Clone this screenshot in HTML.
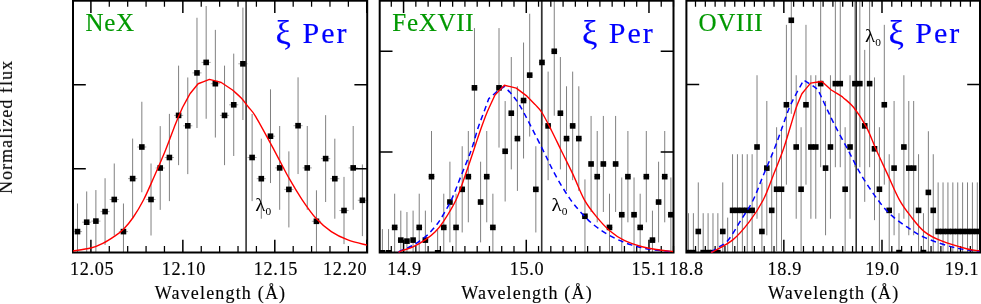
<!DOCTYPE html>
<html><head><meta charset="utf-8"><title>chart</title>
<style>html,body{margin:0;padding:0;background:#fff}svg{display:block}</style></head>
<body>
<svg width="981" height="304" viewBox="0 0 981 304">
<rect width="981" height="304" fill="#fff"/>
<defs>
<clipPath id="c0"><rect x="73.00" y="0.70" width="294.20" height="252.40"/></clipPath>
<clipPath id="c1"><rect x="379.70" y="0.70" width="293.80" height="252.40"/></clipPath>
<clipPath id="c2"><rect x="686.40" y="0.70" width="293.60" height="252.40"/></clipPath>
</defs>
<g clip-path="url(#c0)">
<path d="M77.50 203.49V259.71M86.69 191.45V252.95M95.88 190.07V252.13M105.07 178.24V244.96M114.26 163.49V235.51M123.45 203.49V259.71M132.64 138.56V218.64M141.83 101.75V192.25M151.02 163.49V235.51M160.21 126.12V209.88M169.40 113.89V201.11M178.59 65.63V165.17M187.78 77.46V174.14M196.97 17.76V128.04M206.16 6.03V118.77M215.35 29.86V137.54M224.54 65.63V165.17M233.73 53.62V155.98M242.92 7.60V120.00M252.11 113.89V201.11M261.30 138.68V218.72M270.49 89.34V183.06M279.68 126.00V209.80M288.87 151.37V227.43M298.06 77.34V174.06M307.25 126.00V209.80M316.44 190.32V252.28M325.63 115.17V202.03M334.82 138.68V218.72M344.01 176.89V244.11M353.20 126.00V209.80M362.39 164.46V236.14" stroke="#808080" stroke-width="1" fill="none"/>
<path d="M72.91 231.60H82.09M82.09 222.20H91.28M91.28 221.10H100.47M100.47 211.60H109.66M109.66 199.50H118.85M118.85 231.60H128.04M128.04 178.60H137.23M137.23 147.00H146.42M146.42 199.50H155.61M155.61 168.00H164.80M164.80 157.50H173.99M173.99 115.40H183.18M183.19 125.80H192.38M192.38 72.90H201.56M201.56 62.40H210.75M210.75 83.70H219.94M219.94 115.40H229.13M229.13 104.80H238.32M238.32 63.80H247.51M247.51 157.50H256.70M256.70 178.70H265.89M265.89 136.20H275.09M275.08 167.90H284.27M284.27 189.40H293.47M293.46 125.70H302.66M302.65 167.90H311.85M311.84 221.30H321.04M321.03 158.60H330.23M330.22 178.70H339.42M339.41 210.50H348.61M348.60 167.90H357.80M357.79 200.30H366.99" stroke="#a8a8a8" stroke-width="1" fill="none"/>
<path d="M246.10 0.70V252.50" stroke="#333" stroke-width="1.6"/>
<g fill="#000"><rect x="74.70" y="228.80" width="5.60" height="5.60"/><rect x="83.89" y="219.40" width="5.60" height="5.60"/><rect x="93.08" y="218.30" width="5.60" height="5.60"/><rect x="102.27" y="208.80" width="5.60" height="5.60"/><rect x="111.46" y="196.70" width="5.60" height="5.60"/><rect x="120.65" y="228.80" width="5.60" height="5.60"/><rect x="129.84" y="175.80" width="5.60" height="5.60"/><rect x="139.03" y="144.20" width="5.60" height="5.60"/><rect x="148.22" y="196.70" width="5.60" height="5.60"/><rect x="157.41" y="165.20" width="5.60" height="5.60"/><rect x="166.60" y="154.70" width="5.60" height="5.60"/><rect x="175.79" y="112.60" width="5.60" height="5.60"/><rect x="184.98" y="123.00" width="5.60" height="5.60"/><rect x="194.17" y="70.10" width="5.60" height="5.60"/><rect x="203.36" y="59.60" width="5.60" height="5.60"/><rect x="212.55" y="80.90" width="5.60" height="5.60"/><rect x="221.74" y="112.60" width="5.60" height="5.60"/><rect x="230.93" y="102.00" width="5.60" height="5.60"/><rect x="240.12" y="61.00" width="5.60" height="5.60"/><rect x="249.31" y="154.70" width="5.60" height="5.60"/><rect x="258.50" y="175.90" width="5.60" height="5.60"/><rect x="267.69" y="133.40" width="5.60" height="5.60"/><rect x="276.88" y="165.10" width="5.60" height="5.60"/><rect x="286.07" y="186.60" width="5.60" height="5.60"/><rect x="295.26" y="122.90" width="5.60" height="5.60"/><rect x="304.45" y="165.10" width="5.60" height="5.60"/><rect x="313.64" y="218.50" width="5.60" height="5.60"/><rect x="322.83" y="155.80" width="5.60" height="5.60"/><rect x="332.02" y="175.90" width="5.60" height="5.60"/><rect x="341.21" y="207.70" width="5.60" height="5.60"/><rect x="350.40" y="165.10" width="5.60" height="5.60"/><rect x="359.59" y="197.50" width="5.60" height="5.60"/></g>
</g>
<path d="M109.29 0.70V6.80M109.29 252.50V246.00M127.68 0.70V6.80M127.68 252.50V246.00M146.07 0.70V6.80M146.07 252.50V246.00M164.46 0.70V6.80M164.46 252.50V246.00M201.24 0.70V6.80M201.24 252.50V246.00M219.63 0.70V6.80M219.63 252.50V246.00M238.02 0.70V6.80M238.02 252.50V246.00M256.41 0.70V6.80M256.41 252.50V246.00M293.19 0.70V6.80M293.19 252.50V246.00M311.58 0.70V6.80M311.58 252.50V246.00M329.97 0.70V6.80M329.97 252.50V246.00M348.36 0.70V6.80M348.36 252.50V246.00" stroke="#000" stroke-width="1.25" fill="none"/>
<path d="M90.90 0.70V13.00M90.90 252.50V239.80M182.85 0.70V13.00M182.85 252.50V239.80M274.80 0.70V13.00M274.80 252.50V239.80M366.75 0.70V13.00M366.75 252.50V239.80M73.00 84.70H85.80M367.20 84.70H354.40M73.00 168.80H85.80M367.20 168.80H354.40" stroke="#000" stroke-width="1.5" fill="none"/>
<rect x="73.00" y="0.70" width="294.20" height="251.80" fill="none" stroke="#000" stroke-width="2"/>
<g clip-path="url(#c0)">
<path d="M72.50 251.00 C75.55 250.50 85.75 249.28 90.80 248.00 C95.85 246.72 98.75 245.33 102.80 243.30 C106.85 241.27 111.65 238.15 115.10 235.80 C118.55 233.45 120.50 232.25 123.50 229.20 C126.50 226.15 129.77 222.37 133.10 217.50 C136.43 212.63 140.02 206.75 143.50 200.00 C146.98 193.25 150.32 185.33 154.00 177.00 C157.68 168.67 162.02 158.83 165.60 150.00 C169.18 141.17 172.68 131.08 175.50 124.00 C178.32 116.92 180.17 113.00 182.50 107.50 C185.00 102.92 187.50 98.33 190.00 93.75 C192.70 90.42 195.40 87.08 198.10 83.75 C201.87 82.30 205.63 80.85 209.40 79.40 C213.35 80.43 217.30 81.47 221.25 82.50 C225.00 85.00 228.75 87.50 232.50 90.00 C235.42 92.70 238.54 95.18 241.25 98.10 C243.96 101.02 246.34 104.42 248.75 107.50 C251.16 110.58 251.49 109.55 255.70 116.60 C259.91 123.65 268.45 139.53 274.00 149.80 C279.55 160.07 284.30 169.87 289.00 178.20 C293.70 186.53 297.70 193.12 302.20 199.80 C306.70 206.48 311.15 213.00 316.00 218.30 C320.85 223.60 325.98 228.00 331.30 231.60 C336.62 235.20 341.95 237.63 347.90 239.90 C353.85 242.17 363.82 244.32 367.00 245.20" stroke="#ff0000" stroke-width="1.4" fill="none" stroke-linejoin="round"/>
</g>
<g clip-path="url(#c1)">
<path d="M382.40 229.12V276.48M388.54 229.12V276.48M394.67 193.69V261.15M400.81 210.63V269.59M406.95 212.04V270.21M413.09 210.63V269.59M419.22 193.69V261.15M425.36 210.63V269.59M431.50 131.00V222.32M437.64 229.12V276.48M443.77 193.69V261.15M449.91 161.69V242.39M456.05 193.69V261.15M462.19 146.23V232.47M468.32 131.00V222.32M474.46 28.08V147.58M480.60 161.69V242.39M486.74 131.00V222.32M492.88 193.69V261.15M499.01 28.08V147.58M505.15 101.05V201.51M511.29 57.02V169.40M517.42 86.28V190.90M523.56 42.52V158.52M529.70 13.71V136.57M535.84 146.23V232.47M541.98 -0.60V125.50M548.11 71.60V180.20M554.25 -13.16V115.72M560.39 57.02V169.40M566.52 86.28V190.90M572.66 71.60V180.20M578.80 86.28V190.90M584.94 179.39V253.12M591.08 115.95V211.99M597.21 131.00V222.32M603.35 115.95V211.99M609.49 193.69V261.15M615.62 115.95V211.99M621.76 177.47V251.99M627.90 131.00V222.32M634.04 177.47V251.99M640.17 193.69V261.15M646.31 131.00V222.32M652.45 210.63V269.59M658.59 161.69V242.39M664.72 131.00V222.32M670.86 177.47V251.99" stroke="#808080" stroke-width="1" fill="none"/>
<path d="M379.33 252.80H385.47M385.47 252.80H391.61M391.61 227.42H397.74M397.74 240.11H403.88M403.88 241.13H410.02M410.02 240.11H416.16M416.16 227.42H422.29M422.29 240.11H428.43M428.43 176.66H434.57M434.57 252.80H440.71M440.71 227.42H446.84M446.84 202.04H452.98M452.98 227.42H459.12M459.12 189.35H465.26M465.26 176.66H471.39M471.39 87.83H477.53M477.53 202.04H483.67M483.67 176.66H489.81M489.81 227.42H495.94M495.94 87.83H502.08M502.08 151.28H508.22M508.22 113.21H514.36M514.36 138.59H520.49M520.49 100.52H526.63M526.63 75.14H532.77M532.77 189.35H538.91M538.91 62.45H545.04M545.04 125.90H551.18M551.18 51.28H557.32M557.32 113.21H563.46M563.46 138.59H569.59M569.59 125.90H575.73M575.73 138.59H581.87M581.87 216.25H588.01M588.01 163.97H594.14M594.14 176.66H600.28M600.28 163.97H606.42M606.42 227.42H612.56M612.56 163.97H618.69M618.69 214.73H624.83M624.83 176.66H630.97M630.97 214.73H637.11M637.11 227.42H643.24M643.24 176.66H649.38M649.38 240.11H655.52M655.52 202.04H661.66M661.66 176.66H667.79M667.79 214.73H673.93" stroke="#a8a8a8" stroke-width="1" fill="none"/>
<path d="M541.70 0.70V252.50" stroke="#333" stroke-width="1.6"/>
<g fill="#000"><rect x="379.60" y="250.00" width="5.60" height="5.60"/><rect x="385.74" y="250.00" width="5.60" height="5.60"/><rect x="391.87" y="224.62" width="5.60" height="5.60"/><rect x="398.01" y="237.31" width="5.60" height="5.60"/><rect x="404.15" y="238.33" width="5.60" height="5.60"/><rect x="410.29" y="237.31" width="5.60" height="5.60"/><rect x="416.42" y="224.62" width="5.60" height="5.60"/><rect x="422.56" y="237.31" width="5.60" height="5.60"/><rect x="428.70" y="173.86" width="5.60" height="5.60"/><rect x="434.84" y="250.00" width="5.60" height="5.60"/><rect x="440.97" y="224.62" width="5.60" height="5.60"/><rect x="447.11" y="199.24" width="5.60" height="5.60"/><rect x="453.25" y="224.62" width="5.60" height="5.60"/><rect x="459.39" y="186.55" width="5.60" height="5.60"/><rect x="465.52" y="173.86" width="5.60" height="5.60"/><rect x="471.66" y="85.03" width="5.60" height="5.60"/><rect x="477.80" y="199.24" width="5.60" height="5.60"/><rect x="483.94" y="173.86" width="5.60" height="5.60"/><rect x="490.07" y="224.62" width="5.60" height="5.60"/><rect x="496.21" y="85.03" width="5.60" height="5.60"/><rect x="502.35" y="148.48" width="5.60" height="5.60"/><rect x="508.49" y="110.41" width="5.60" height="5.60"/><rect x="514.62" y="135.79" width="5.60" height="5.60"/><rect x="520.76" y="97.72" width="5.60" height="5.60"/><rect x="526.90" y="72.34" width="5.60" height="5.60"/><rect x="533.04" y="186.55" width="5.60" height="5.60"/><rect x="539.18" y="59.65" width="5.60" height="5.60"/><rect x="545.31" y="123.10" width="5.60" height="5.60"/><rect x="551.45" y="48.48" width="5.60" height="5.60"/><rect x="557.59" y="110.41" width="5.60" height="5.60"/><rect x="563.73" y="135.79" width="5.60" height="5.60"/><rect x="569.86" y="123.10" width="5.60" height="5.60"/><rect x="576.00" y="135.79" width="5.60" height="5.60"/><rect x="582.14" y="213.45" width="5.60" height="5.60"/><rect x="588.28" y="161.17" width="5.60" height="5.60"/><rect x="594.41" y="173.86" width="5.60" height="5.60"/><rect x="600.55" y="161.17" width="5.60" height="5.60"/><rect x="606.69" y="224.62" width="5.60" height="5.60"/><rect x="612.83" y="161.17" width="5.60" height="5.60"/><rect x="618.96" y="211.93" width="5.60" height="5.60"/><rect x="625.10" y="173.86" width="5.60" height="5.60"/><rect x="631.24" y="211.93" width="5.60" height="5.60"/><rect x="637.38" y="224.62" width="5.60" height="5.60"/><rect x="643.51" y="173.86" width="5.60" height="5.60"/><rect x="649.65" y="237.31" width="5.60" height="5.60"/><rect x="655.79" y="199.24" width="5.60" height="5.60"/><rect x="661.92" y="173.86" width="5.60" height="5.60"/><rect x="668.06" y="211.93" width="5.60" height="5.60"/></g>
</g>
<path d="M391.30 0.70V6.80M391.30 252.50V246.00M415.84 0.70V6.80M415.84 252.50V246.00M428.11 0.70V6.80M428.11 252.50V246.00M440.38 0.70V6.80M440.38 252.50V246.00M452.65 0.70V6.80M452.65 252.50V246.00M464.92 0.70V6.80M464.92 252.50V246.00M477.19 0.70V6.80M477.19 252.50V246.00M489.46 0.70V6.80M489.46 252.50V246.00M501.73 0.70V6.80M501.73 252.50V246.00M514.00 0.70V6.80M514.00 252.50V246.00M538.54 0.70V6.80M538.54 252.50V246.00M550.81 0.70V6.80M550.81 252.50V246.00M563.08 0.70V6.80M563.08 252.50V246.00M575.35 0.70V6.80M575.35 252.50V246.00M587.62 0.70V6.80M587.62 252.50V246.00M599.89 0.70V6.80M599.89 252.50V246.00M612.16 0.70V6.80M612.16 252.50V246.00M624.43 0.70V6.80M624.43 252.50V246.00M636.70 0.70V6.80M636.70 252.50V246.00M661.24 0.70V6.80M661.24 252.50V246.00M673.51 0.70V6.80M673.51 252.50V246.00" stroke="#000" stroke-width="1.25" fill="none"/>
<path d="M403.57 0.70V13.00M403.57 252.50V239.80M526.27 0.70V13.00M526.27 252.50V239.80M648.97 0.70V13.00M648.97 252.50V239.80M379.70 51.30H392.50M673.50 51.30H660.70M379.70 152.00H392.50M673.50 152.00H660.70" stroke="#000" stroke-width="1.5" fill="none"/>
<rect x="379.70" y="0.70" width="293.80" height="251.80" fill="none" stroke="#000" stroke-width="2"/>
<g clip-path="url(#c1)">
<path d="M398.50 252.00 C399.07 251.70 399.48 251.32 401.90 250.20 C404.32 249.08 409.12 247.52 413.00 245.30 C416.88 243.08 421.87 239.62 425.20 236.90 C428.53 234.18 430.52 231.83 433.00 229.00 C435.48 226.17 437.05 224.73 440.10 219.90 C443.15 215.07 447.82 207.32 451.30 200.00 C454.78 192.68 457.67 184.33 461.00 176.00 C464.33 167.67 468.47 158.00 471.30 150.00 C474.13 142.00 475.93 134.25 478.00 128.00 C480.07 121.75 481.96 117.38 483.75 112.50 C485.54 107.62 487.08 103.33 488.75 98.75 C492.08 95.83 495.42 92.92 498.75 90.00 C500.63 88.83 502.52 87.67 504.40 86.50 C506.68 88.92 509.07 91.18 511.25 93.75 C513.43 96.32 515.42 98.78 517.50 101.90 C519.58 105.03 519.73 104.93 523.75 112.50 C527.77 120.07 536.41 137.03 541.60 147.30 C546.79 157.57 550.20 165.55 554.90 174.10 C559.60 182.65 564.82 191.52 569.80 198.60 C574.78 205.68 580.08 211.67 584.80 216.60 C589.52 221.53 593.12 224.60 598.10 228.20 C603.08 231.80 609.17 235.42 614.70 238.20 C620.23 240.98 625.48 243.07 631.30 244.90 C637.12 246.73 642.65 248.05 649.60 249.20 C656.55 250.35 669.10 251.37 673.00 251.80" stroke="#0000ff" stroke-width="1.5" fill="none" stroke-dasharray="5.5 4"/>
<path d="M398.50 252.20 C399.20 251.90 400.28 251.28 402.70 250.40 C405.12 249.52 409.25 248.65 413.00 246.90 C416.75 245.15 421.53 242.38 425.20 239.90 C428.87 237.42 431.97 235.05 435.00 232.00 C438.03 228.95 439.90 226.93 443.40 221.60 C446.90 216.27 452.40 207.60 456.00 200.00 C459.60 192.40 462.03 184.33 465.00 176.00 C467.97 167.67 471.22 157.67 473.80 150.00 C476.38 142.33 478.30 136.25 480.50 130.00 C482.70 123.75 484.58 118.33 487.00 112.50 C489.42 106.67 492.33 100.83 495.00 95.00 C498.13 91.75 501.27 88.50 504.40 85.25 C508.35 86.20 512.30 87.15 516.25 88.10 C519.58 90.60 522.92 93.10 526.25 95.60 C529.17 98.53 532.08 101.47 535.00 104.40 C537.30 107.10 539.13 108.12 541.90 112.50 C544.67 116.88 548.42 124.45 551.60 130.70 C554.78 136.95 557.40 142.63 561.00 150.00 C564.60 157.37 569.30 166.60 573.20 174.90 C577.10 183.20 580.53 192.85 584.40 199.80 C588.27 206.75 592.18 211.45 596.40 216.60 C600.62 221.75 604.98 226.68 609.70 230.70 C614.42 234.72 619.43 238.07 624.70 240.70 C629.97 243.33 636.05 245.03 641.30 246.50 C646.55 247.97 650.92 248.67 656.20 249.50 C661.48 250.33 670.20 251.17 673.00 251.50" stroke="#ff0000" stroke-width="1.4" fill="none" stroke-linejoin="round"/>
</g>
<g clip-path="url(#c2)">
<path d="M688.50 213.19V292.01M693.39 213.19V292.01M698.29 182.42V280.54M703.18 213.19V292.01M708.08 213.19V292.01M712.98 213.19V292.01M717.87 213.19V292.01M722.76 182.42V280.54M727.66 217.60V293.10M732.55 154.22V266.50M737.45 154.22V266.50M742.35 154.22V266.50M747.24 154.22V266.50M752.13 154.22V266.50M757.03 75.24V218.76M761.92 182.42V280.54M766.82 100.97V235.27M771.72 154.22V266.50M776.61 127.22V251.26M781.50 127.22V251.26M786.40 24.84V184.68M791.29 -73.24V113.80M796.19 75.24V218.76M801.09 127.22V251.26M805.98 24.84V184.68M810.88 75.24V218.76M815.77 75.24V218.76M820.66 0.05V167.23M825.56 100.97V235.27M830.45 75.24V218.76M835.35 0.05V167.23M840.25 0.05V167.23M845.14 127.22V251.26M850.03 75.24V218.76M854.93 0.05V167.23M859.83 0.05V167.23M864.72 49.89V201.87M869.62 0.05V167.23M874.51 77.41V220.18M879.40 127.22V251.26M884.30 24.84V184.68M889.19 154.22V266.50M894.09 100.97V235.27M898.99 213.19V292.01M903.88 75.24V218.76M908.77 100.97V235.27M913.67 100.97V235.27M918.56 154.22V266.50M923.46 213.19V292.01M928.36 131.22V253.60M933.25 154.22V266.50M938.14 182.42V280.54M943.04 182.42V280.54M947.93 182.42V280.54M952.83 182.42V280.54M957.72 182.42V280.54M962.62 182.42V280.54M967.51 182.42V280.54M972.41 182.42V280.54M977.30 182.42V280.54" stroke="#808080" stroke-width="1" fill="none"/>
<path d="M686.05 252.60H690.95M690.95 252.60H695.84M695.84 231.48H700.74M700.74 252.60H705.63M705.63 252.60H710.53M710.53 252.60H715.42M715.42 252.60H720.32M720.32 231.48H725.21M725.21 255.35H730.11M730.11 210.36H735.00M735.00 210.36H739.90M739.90 210.36H744.79M744.79 210.36H749.69M749.69 210.36H754.58M754.58 147.00H759.48M759.48 231.48H764.37M764.37 168.12H769.27M769.27 210.36H774.16M774.16 189.24H779.06M779.06 189.24H783.95M783.95 104.76H788.85M788.85 20.28H793.74M793.74 147.00H798.64M798.64 189.24H803.53M803.53 104.76H808.43M808.43 147.00H813.32M813.32 147.00H818.22M818.22 83.64H823.11M823.11 168.12H828.01M828.01 147.00H832.90M832.90 83.64H837.80M837.80 83.64H842.69M842.69 189.24H847.59M847.59 147.00H852.48M852.48 83.64H857.38M857.38 83.64H862.27M862.27 125.88H867.17M867.17 83.64H872.06M872.06 148.80H876.96M876.96 189.24H881.85M881.85 104.76H886.75M886.75 210.36H891.64M891.64 168.12H896.54M896.54 252.60H901.43M901.43 147.00H906.33M906.33 168.12H911.22M911.22 168.12H916.12M916.12 210.36H921.01M921.01 252.60H925.91M925.91 192.41H930.80M930.80 210.36H935.70M935.70 231.48H940.59M940.59 231.48H945.49M945.49 231.48H950.38M950.38 231.48H955.28M955.28 231.48H960.17M960.17 231.48H965.07M965.07 231.48H969.96M969.96 231.48H974.86M974.86 231.48H979.75" stroke="#a8a8a8" stroke-width="1" fill="none"/>
<path d="M856.20 0.70V252.50" stroke="#333" stroke-width="1.6"/>
<g fill="#000"><rect x="685.70" y="249.80" width="5.60" height="5.60"/><rect x="690.60" y="249.80" width="5.60" height="5.60"/><rect x="695.49" y="228.68" width="5.60" height="5.60"/><rect x="700.38" y="249.80" width="5.60" height="5.60"/><rect x="705.28" y="249.80" width="5.60" height="5.60"/><rect x="710.18" y="249.80" width="5.60" height="5.60"/><rect x="715.07" y="249.80" width="5.60" height="5.60"/><rect x="719.97" y="228.68" width="5.60" height="5.60"/><rect x="724.86" y="252.55" width="5.60" height="5.60"/><rect x="729.75" y="207.56" width="5.60" height="5.60"/><rect x="734.65" y="207.56" width="5.60" height="5.60"/><rect x="739.55" y="207.56" width="5.60" height="5.60"/><rect x="744.44" y="207.56" width="5.60" height="5.60"/><rect x="749.34" y="207.56" width="5.60" height="5.60"/><rect x="754.23" y="144.20" width="5.60" height="5.60"/><rect x="759.12" y="228.68" width="5.60" height="5.60"/><rect x="764.02" y="165.32" width="5.60" height="5.60"/><rect x="768.92" y="207.56" width="5.60" height="5.60"/><rect x="773.81" y="186.44" width="5.60" height="5.60"/><rect x="778.71" y="186.44" width="5.60" height="5.60"/><rect x="783.60" y="101.96" width="5.60" height="5.60"/><rect x="788.50" y="17.48" width="5.60" height="5.60"/><rect x="793.39" y="144.20" width="5.60" height="5.60"/><rect x="798.29" y="186.44" width="5.60" height="5.60"/><rect x="803.18" y="101.96" width="5.60" height="5.60"/><rect x="808.08" y="144.20" width="5.60" height="5.60"/><rect x="812.97" y="144.20" width="5.60" height="5.60"/><rect x="817.87" y="80.84" width="5.60" height="5.60"/><rect x="822.76" y="165.32" width="5.60" height="5.60"/><rect x="827.65" y="144.20" width="5.60" height="5.60"/><rect x="832.55" y="80.84" width="5.60" height="5.60"/><rect x="837.45" y="80.84" width="5.60" height="5.60"/><rect x="842.34" y="186.44" width="5.60" height="5.60"/><rect x="847.24" y="144.20" width="5.60" height="5.60"/><rect x="852.13" y="80.84" width="5.60" height="5.60"/><rect x="857.03" y="80.84" width="5.60" height="5.60"/><rect x="861.92" y="123.08" width="5.60" height="5.60"/><rect x="866.82" y="80.84" width="5.60" height="5.60"/><rect x="871.71" y="146.00" width="5.60" height="5.60"/><rect x="876.61" y="186.44" width="5.60" height="5.60"/><rect x="881.50" y="101.96" width="5.60" height="5.60"/><rect x="886.39" y="207.56" width="5.60" height="5.60"/><rect x="891.29" y="165.32" width="5.60" height="5.60"/><rect x="896.19" y="249.80" width="5.60" height="5.60"/><rect x="901.08" y="144.20" width="5.60" height="5.60"/><rect x="905.98" y="165.32" width="5.60" height="5.60"/><rect x="910.87" y="165.32" width="5.60" height="5.60"/><rect x="915.76" y="207.56" width="5.60" height="5.60"/><rect x="920.66" y="249.80" width="5.60" height="5.60"/><rect x="925.56" y="189.61" width="5.60" height="5.60"/><rect x="930.45" y="207.56" width="5.60" height="5.60"/><rect x="935.35" y="228.68" width="5.60" height="5.60"/><rect x="940.24" y="228.68" width="5.60" height="5.60"/><rect x="945.13" y="228.68" width="5.60" height="5.60"/><rect x="950.03" y="228.68" width="5.60" height="5.60"/><rect x="954.92" y="228.68" width="5.60" height="5.60"/><rect x="959.82" y="228.68" width="5.60" height="5.60"/><rect x="964.72" y="228.68" width="5.60" height="5.60"/><rect x="969.61" y="228.68" width="5.60" height="5.60"/><rect x="974.50" y="228.68" width="5.60" height="5.60"/></g>
</g>
<path d="M695.50 0.70V6.80M695.50 252.50V246.00M705.32 0.70V6.80M705.32 252.50V246.00M715.13 0.70V6.80M715.13 252.50V246.00M724.95 0.70V6.80M724.95 252.50V246.00M734.76 0.70V6.80M734.76 252.50V246.00M744.58 0.70V6.80M744.58 252.50V246.00M754.39 0.70V6.80M754.39 252.50V246.00M764.21 0.70V6.80M764.21 252.50V246.00M774.02 0.70V6.80M774.02 252.50V246.00M793.65 0.70V6.80M793.65 252.50V246.00M803.47 0.70V6.80M803.47 252.50V246.00M813.28 0.70V6.80M813.28 252.50V246.00M823.10 0.70V6.80M823.10 252.50V246.00M832.91 0.70V6.80M832.91 252.50V246.00M842.73 0.70V6.80M842.73 252.50V246.00M852.54 0.70V6.80M852.54 252.50V246.00M862.36 0.70V6.80M862.36 252.50V246.00M872.17 0.70V6.80M872.17 252.50V246.00M891.80 0.70V6.80M891.80 252.50V246.00M901.62 0.70V6.80M901.62 252.50V246.00M911.43 0.70V6.80M911.43 252.50V246.00M921.25 0.70V6.80M921.25 252.50V246.00M931.06 0.70V6.80M931.06 252.50V246.00M940.88 0.70V6.80M940.88 252.50V246.00M950.69 0.70V6.80M950.69 252.50V246.00M960.50 0.70V6.80M960.50 252.50V246.00M970.32 0.70V6.80M970.32 252.50V246.00" stroke="#000" stroke-width="1.25" fill="none"/>
<path d="M783.84 0.70V13.00M783.84 252.50V239.80M881.99 0.70V13.00M881.99 252.50V239.80M980.13 0.70V13.00M980.13 252.50V239.80M686.40 84.60H699.20M980.00 84.60H967.20" stroke="#000" stroke-width="1.5" fill="none"/>
<rect x="686.40" y="0.70" width="293.60" height="251.80" fill="none" stroke="#000" stroke-width="2"/>
<g clip-path="url(#c2)">
<path d="M711.50 252.40 C712.15 251.83 712.67 251.00 715.40 249.00 C718.13 247.00 723.62 245.25 727.90 240.40 C732.18 235.55 736.88 226.63 741.10 219.90 C745.32 213.17 749.55 207.32 753.20 200.00 C756.85 192.68 759.55 184.33 763.00 176.00 C766.45 167.67 770.73 158.00 773.90 150.00 C777.07 142.00 779.42 135.08 782.00 128.00 C784.58 120.92 786.92 113.42 789.40 107.50 C791.88 101.58 794.40 97.50 796.90 92.50 C799.18 88.33 801.47 84.17 803.75 80.00 C806.67 81.87 809.58 83.73 812.50 85.60 C814.37 87.27 815.81 86.95 818.10 90.60 C820.39 94.25 823.50 101.78 826.25 107.50 C829.00 113.22 830.99 117.85 834.60 124.90 C838.21 131.95 843.47 141.47 847.90 149.80 C852.33 158.13 856.22 166.57 861.20 174.90 C866.18 183.23 872.82 193.12 877.80 199.80 C882.78 206.48 886.12 210.40 891.10 215.00 C896.08 219.60 902.17 223.67 907.70 227.40 C913.23 231.13 917.65 234.35 924.30 237.40 C930.95 240.45 940.95 243.68 947.60 245.70 C954.25 247.72 958.88 248.58 964.20 249.50 C969.52 250.42 976.95 250.92 979.50 251.20" stroke="#0000ff" stroke-width="1.5" fill="none" stroke-dasharray="5.5 4"/>
<path d="M711.00 252.60 C711.73 252.22 711.77 252.42 715.40 250.30 C719.03 248.18 727.13 244.68 732.80 239.90 C738.47 235.12 744.33 228.25 749.40 221.60 C754.47 214.95 759.27 207.60 763.20 200.00 C767.13 192.40 769.68 184.33 773.00 176.00 C776.32 167.67 780.27 158.00 783.10 150.00 C785.93 142.00 787.81 135.08 790.00 128.00 C792.19 120.92 794.27 113.21 796.25 107.50 C798.23 101.79 800.02 98.33 801.90 93.75 C804.80 90.20 807.70 86.65 810.60 83.10 C814.37 82.57 818.13 82.03 821.90 81.50 C825.02 84.33 828.13 87.17 831.25 90.00 C835.00 92.30 838.75 94.60 842.50 96.90 C846.25 100.43 849.80 102.55 853.75 107.50 C857.70 112.45 862.48 119.60 866.20 126.60 C869.93 133.60 872.50 141.45 876.10 149.50 C879.70 157.55 883.92 166.52 887.80 174.90 C891.68 183.28 895.53 192.85 899.40 199.80 C903.27 206.75 906.85 211.30 911.00 216.60 C915.15 221.90 919.32 227.58 924.30 231.60 C929.28 235.62 933.70 237.80 940.90 240.70 C948.10 243.60 961.07 247.32 967.50 249.00 C973.93 250.68 977.50 250.50 979.50 250.80" stroke="#ff0000" stroke-width="1.4" fill="none" stroke-linejoin="round"/>
</g>
<g font-family="Liberation Serif, serif" style="opacity:0.999">
<text x="85.5" y="30.7" font-size="25" letter-spacing="0.7" fill="#009900" stroke="#009900" stroke-width="0.2">NeX</text>
<text x="275.6" y="42.9" font-size="30" letter-spacing="2.0" fill="#0000ff" stroke="#0000ff" stroke-width="0.2"><tspan font-size="34.5" dy="1.1">ξ</tspan><tspan dy="-1.1"> Per</tspan></text>
<text x="220.5" y="299.1" font-size="18" letter-spacing="1.18" fill="#000" stroke="#000" stroke-width="0.15" text-anchor="middle">Wavelength (Å)</text>
<text x="392.3" y="30.7" font-size="25" letter-spacing="0.7" fill="#009900" stroke="#009900" stroke-width="0.2">FeXVII</text>
<text x="581.9" y="42.9" font-size="30" letter-spacing="2.0" fill="#0000ff" stroke="#0000ff" stroke-width="0.2"><tspan font-size="34.5" dy="1.1">ξ</tspan><tspan dy="-1.1"> Per</tspan></text>
<text x="527.1" y="299.1" font-size="18" letter-spacing="1.18" fill="#000" stroke="#000" stroke-width="0.15" text-anchor="middle">Wavelength (Å)</text>
<text x="698.6" y="30.7" font-size="25" letter-spacing="0.7" fill="#009900" stroke="#009900" stroke-width="0.2">OVIII</text>
<text x="888.4" y="42.9" font-size="30" letter-spacing="2.0" fill="#0000ff" stroke="#0000ff" stroke-width="0.2"><tspan font-size="34.5" dy="1.1">ξ</tspan><tspan dy="-1.1"> Per</tspan></text>
<text x="833.7" y="299.1" font-size="18" letter-spacing="1.18" fill="#000" stroke="#000" stroke-width="0.15" text-anchor="middle">Wavelength (Å)</text>
<g transform="translate(255.2,210.8)"><text transform="scale(1.14,1)" font-size="18.4" fill="#000">λ</text><text x="10.3" y="4.0" font-size="11.4" fill="#000">0</text></g>
<g transform="translate(551.4,210.8)"><text transform="scale(1.14,1)" font-size="18.4" fill="#000">λ</text><text x="10.3" y="4.0" font-size="11.4" fill="#000">0</text></g>
<g transform="translate(865.0,42.4)"><text transform="scale(1.14,1)" font-size="18.4" fill="#000">λ</text><text x="10.3" y="4.0" font-size="11.4" fill="#000">0</text></g>
<text x="92.2" y="274.9" font-size="18.2" letter-spacing="0.7" fill="#000" stroke="#000" stroke-width="0.15" text-anchor="middle">12.05</text>
<text x="183.9" y="274.9" font-size="18.2" letter-spacing="0.7" fill="#000" stroke="#000" stroke-width="0.15" text-anchor="middle">12.10</text>
<text x="275.9" y="274.9" font-size="18.2" letter-spacing="0.7" fill="#000" stroke="#000" stroke-width="0.15" text-anchor="middle">12.15</text>
<text x="345.1" y="274.9" font-size="18.2" letter-spacing="0.7" fill="#000" stroke="#000" stroke-width="0.15" text-anchor="middle">12.20</text>
<text x="404.6" y="274.9" font-size="18.2" letter-spacing="0.7" fill="#000" stroke="#000" stroke-width="0.15" text-anchor="middle">14.9</text>
<text x="527.0" y="274.9" font-size="18.2" letter-spacing="0.7" fill="#000" stroke="#000" stroke-width="0.15" text-anchor="middle">15.0</text>
<text x="648.9" y="274.9" font-size="18.2" letter-spacing="0.7" fill="#000" stroke="#000" stroke-width="0.15" text-anchor="middle">15.1</text>
<text x="686.6" y="274.9" font-size="18.2" letter-spacing="0.7" fill="#000" stroke="#000" stroke-width="0.15" text-anchor="middle">18.8</text>
<text x="784.8" y="274.9" font-size="18.2" letter-spacing="0.7" fill="#000" stroke="#000" stroke-width="0.15" text-anchor="middle">18.9</text>
<text x="882.6" y="274.9" font-size="18.2" letter-spacing="0.7" fill="#000" stroke="#000" stroke-width="0.15" text-anchor="middle">19.0</text>
<text x="962.0" y="274.9" font-size="18.2" letter-spacing="0.7" fill="#000" stroke="#000" stroke-width="0.15" text-anchor="middle">19.1</text>
<text transform="translate(12.0,126.9) rotate(-90)" font-size="18" letter-spacing="1.04" fill="#000" stroke="#000" stroke-width="0.15" text-anchor="middle">Normalized flux</text>
</g>
</svg>
</body></html>
